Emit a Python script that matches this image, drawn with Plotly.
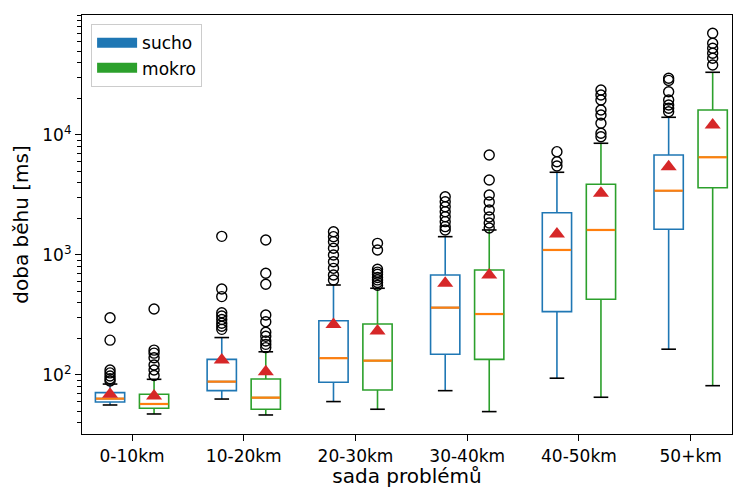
import plotly.graph_objects as go

categories = ["0-10km", "10-20km", "20-30km", "30-40km", "40-50km", "50+km"]

sucho_q1 = [59.6, 74, 87, 149, 337, 1637]
sucho_median = [63.5, 88, 138, 364, 1101, 3434]
sucho_q3 = [71.2, 135, 283, 681, 2251, 6813]
sucho_lower = [56.2, 63, 60, 74, 94, 164]
sucho_upper = [84, 205, 562, 1421, 4890, 14044]
sucho_mean = [69, 133, 264, 581, 1496, 5445]
sucho_outliers = [
    [89, 93, 98, 104, 110, 195, 300],
    [240, 255, 270, 290, 310, 330, 450, 520, 1430],
    [618, 681, 774, 879, 1000, 1137, 1291, 1421, 1560],
    [1616, 1722, 1895, 2085, 2295, 2526, 2780, 3060],
    [5517, 5990, 7260],
    [15640, 16690, 17783, 19573, 22950, 28500, 29690],
]

mokro_q1 = [52.8, 51.8, 75, 135, 427, 3636]
mokro_median = [57.3, 64.7, 131.6, 322, 1616, 6520]
mokro_q3 = [69, 92.6, 266, 750, 3883, 16155]
mokro_lower = [47.3, 46.4, 51.8, 49.5, 65.2, 81.4]
mokro_upper = [92, 156, 528, 1616, 8530, 33310]
mokro_mean = [66.8, 106.5, 233, 681, 3268, 12115]
mokro_outliers = [
    [99, 110, 121, 139, 152, 161, 355],
    [169, 180, 192, 210, 227, 278, 316, 570, 704, 1334],
    [560, 590, 620, 650, 690, 720, 760, 1100, 1250],
    [1679, 1848, 2074, 2371, 2765, 3162, 4217, 6813],
    [9670, 10330, 12516, 14678, 16156, 19573, 21544, 23714],
    [38310, 43570, 47960, 52780, 58080, 70400],
]

ytick_vals = [100, 1000, 10000]
ytick_text = ["10<sup>2</sup>", "10<sup>3</sup>", "10<sup>4</sup>"]

BLUE = "#1f77b4"
GREEN = "#2ca02c"
ORANGE = "#ff7f0e"
RED = "#d62728"
FONT = "DejaVu Sans"

OFFSET = 0.197
BOX_W = 0.262
LW = 1.6

fig = go.Figure()

series = [
    ("sucho", BLUE, -OFFSET, sucho_q1, sucho_median, sucho_q3, sucho_lower, sucho_upper, sucho_mean, sucho_outliers),
    ("mokro", GREEN, OFFSET, mokro_q1, mokro_median, mokro_q3, mokro_lower, mokro_upper, mokro_mean, mokro_outliers),
]

for name, color, off, q1, med, q3, lo, up, mean, outs in series:
    xs = [i + off for i in range(len(categories))]
    fig.add_trace(go.Box(
        x=xs, q1=q1, median=med, q3=q3, lowerfence=lo, upperfence=up,
        width=BOX_W, whiskerwidth=0, boxpoints=False,
        fillcolor="rgba(0,0,0,0)", line=dict(color=color, width=LW),
        showlegend=False, hoverinfo="skip",
    ))
    # whisker caps (black)
    fig.add_trace(go.Scatter(
        x=xs + xs, y=lo + up, mode="markers", marker=dict(size=0.1, color="rgba(0,0,0,0)"),
        error_x=dict(type="constant", value=BOX_W / 4, color="black", thickness=LW, width=0),
        showlegend=False, hoverinfo="skip",
    ))
    # median (orange)
    fig.add_trace(go.Scatter(
        x=xs, y=med, mode="markers", marker=dict(size=0.1, color="rgba(0,0,0,0)"),
        error_x=dict(type="constant", value=BOX_W / 2 - 0.004, color=ORANGE, thickness=2.2, width=0),
        showlegend=False, hoverinfo="skip",
    ))
    # outliers
    ox, oy = [], []
    for i, vals in enumerate(outs):
        ox += [xs[i]] * len(vals)
        oy += vals
    fig.add_trace(go.Scatter(
        x=ox, y=oy, mode="markers",
        marker=dict(symbol="circle-open", size=10, color="black", line=dict(width=1.4)),
        showlegend=False, hoverinfo="skip",
    ))
    # means
    fig.add_trace(go.Scatter(
        x=xs, y=mean, mode="markers",
        marker=dict(symbol="triangle-up", size=14, color=RED),
        showlegend=False, hoverinfo="skip",
    ))

# legend entries (patch-like thick lines)
for name, color in [("sucho", BLUE), ("mokro", GREEN)]:
    fig.add_trace(go.Scatter(x=[None], y=[None], mode="lines", name=name,
                             line=dict(color=color, width=14)))

fig.update_layout(
    width=733, height=488,
    margin=dict(l=82, r=1, t=15, b=54),
    paper_bgcolor="white", plot_bgcolor="white",
    font=dict(family=FONT, size=17, color="black"),
    showlegend=True,
    legend=dict(
        x=0.014, y=0.978, xanchor="left", yanchor="top",
        bgcolor="rgba(255,255,255,0.8)", bordercolor="#cccccc", borderwidth=1,
        font=dict(size=17), tracegroupgap=0, itemwidth=40,
    ),
    xaxis=dict(
        range=[-0.448, 5.37], tickmode="array", tickvals=list(range(len(categories))),
        ticktext=categories, ticks="outside", ticklen=6, tickcolor="black", tickwidth=1.2,
        showline=True, linecolor="black", linewidth=1.2, mirror=True,
        showgrid=False, zeroline=False, automargin=False,
        title=dict(text="sada problémů", standoff=2),
    ),
    yaxis=dict(
        type="log", range=[1.508, 5.0], tickmode="array", tickvals=ytick_vals, ticktext=ytick_text,
        ticks="outside", ticklen=6, tickcolor="black", tickwidth=1.2,
        minor=dict(ticks="outside", ticklen=3.5, tickcolor="black", tickwidth=1, dtick="D1", showgrid=False),
        showline=True, linecolor="black", linewidth=1.2, mirror=True,
        showgrid=False, zeroline=False, automargin=False,
        title=dict(text="doba běhu [ms]", standoff=8),
    ),
)

fig.write_html(
    "out.html",
    config={"displayModeBar": False},
    post_script="document.body.style.margin='0';document.body.style.overflow='hidden';",
)
